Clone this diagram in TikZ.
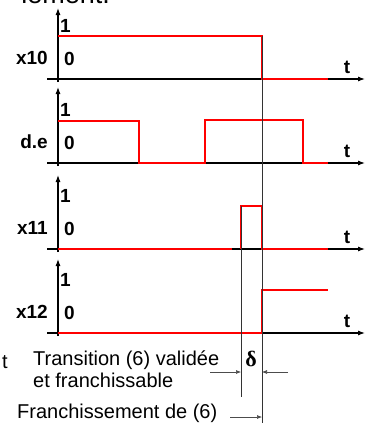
\documentclass[tikz,border=0pt]{standalone}
\usepackage{fontspec}
\setmainfont{Liberation Sans}
\newfontfamily\grecfont{Liberation Serif}
\usetikzlibrary{arrows.meta}

\tikzstyle{axe}=[line width=1.1pt,-{Latex[length=7pt,width=5pt]}]
\tikzstyle{signal}=[line width=2.2pt,color=red]
\tikzstyle{repere}=[line width=0.6pt,color=black!80]
\tikzstyle{cote}=[line width=0.6pt,color=black!70,-{Latex[length=5pt,width=4pt]}]
\tikzstyle{niveau}=[inner sep=0pt,font=\bfseries\fontsize{19}{19}\selectfont]
\tikzstyle{legende}=[inner sep=0pt,align=left,
    font=\fontsize{20}{22}\selectfont]
% panneau : #1 nom, #2 ordonnee de l'axe, #3 hauteur de la fleche, #4 etiquette
\newcommand{\chrono}[4]{
    \coordinate (#1bas) at (58,#2+3);
    \coordinate (#1haut) at (58,#2-#3);
    \coordinate (#1g) at (47,#2);
    \coordinate (#1d) at (365,#2);
    \draw[axe] (#1bas) -- (#1haut);
    \draw[axe] (#1g) -- (#1d);
    \node[niveau,anchor=base west] (#1un) at (60,#2-47) {1};
    \node[niveau,anchor=base west] (#1zero) at (64,#2-14) {0};
    \node[niveau,anchor=base] (#1t) at (347,#2-6) {t};
    \node[niveau,anchor=base east] (#1nom) at (48,#2-15) {#4};
}

\begin{document}
\begin{tikzpicture}[x=1pt,y=-1pt]
    \useasboundingbox (0,0) rectangle (375,423);
    \clip (0,0) rectangle (375,423);
    %
    \node[inner sep=0pt,anchor=base east,font=\fontsize{27}{27}\selectfont]
        (titre) at (110,4) {lement.};
    \node[legende,anchor=base east] (reste) at (8,368) {t};
    %
    \chrono{xa}{79}{71}{x10}
    \chrono{de}{163}{76}{d.e}
    \chrono{xb}{249}{74}{x11}
    \chrono{xc}{333}{74}{x12}
    %
    \draw[signal] (58,36) -- (262,36) -- (262,79) -- (328,79);
    \draw[signal] (58,121) -- (139,121) -- (139,163) -- (205,163)
        -- (205,120) -- (303,120) -- (303,163) -- (328,163);
    \draw[signal] (58,249) -- (232,249);
    \draw[signal] (241,249) -- (241,206) -- (262,206) -- (262,249) -- (328,249);
    \draw[signal] (58,333) -- (262,333) -- (262,290) -- (328,290);
    %
    \coordinate (valid) at (241,206);
    \coordinate (validbas) at (241,397);
    \coordinate (franch) at (262,36);
    \coordinate (franchbas) at (262,423);
    \draw[repere] (valid) -- (validbas);
    \draw[repere] (franch) -- (franchbas);
    %
    \node[legende,anchor=base west] (transition) at (33,387)
        {Transition (6) validée\\et franchissable};
    \node[inner sep=0pt,anchor=base,font=\grecfont\bfseries\fontsize{22}{22}\selectfont]
        (delta) at (251,366) {δ};
    \coordinate (gauche) at (210,372);
    \coordinate (droite) at (288,372);
    \draw[cote] (gauche) -- (valid |- gauche);
    \draw[cote] (droite) -- (franch |- droite);
    %
    \node[legende,anchor=base west] (passage) at (17,418) {Franchissement de (6)};
    \coordinate (fleche) at (230,417);
    \draw[cote] (fleche) -- (franch |- fleche);
\end{tikzpicture}
\end{document}
